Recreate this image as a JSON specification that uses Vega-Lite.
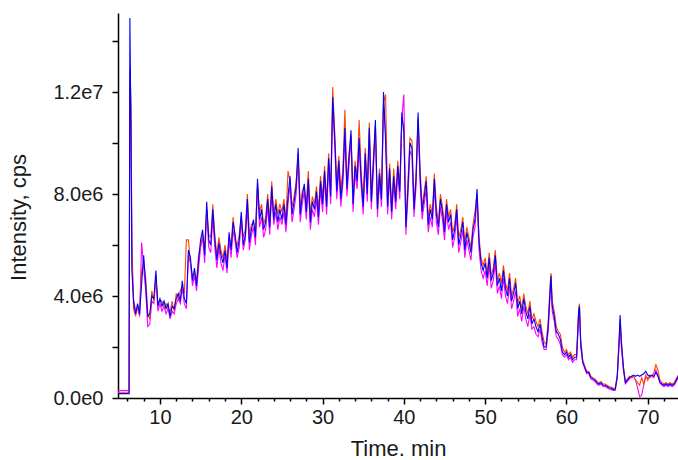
{
  "$schema": "https://vega.github.io/schema/vega-lite/v6.json",
  "width": 560,
  "height": 385,
  "autosize": {"type": "none"},
  "padding": {"left": 118, "top": 13, "right": 0, "bottom": 62},
  "background": "white",
  "config": {
    "view": {"stroke": null},
    "font": "Liberation Sans",
    "axis": {
      "domainColor": "#000000",
      "domainWidth": 1.5,
      "tickColor": "#000000",
      "tickWidth": 1.5,
      "labelFont": "Liberation Sans",
      "labelFontSize": 20,
      "labelColor": "#1a1a1a",
      "titleFont": "Liberation Sans",
      "titleFontSize": 22,
      "titleFontWeight": "normal",
      "titleColor": "#1a1a1a",
      "grid": false,
      "labelOverlap": false,
      "labelBound": false,
      "labelFlush": false
    }
  },
  "data": {"values": [
    {"time":4.84,"magenta":0.29e6,"orange":0.2e6,"blue":0.17e6},
    {"time":6.2,"magenta":0.29e6,"orange":0.2e6,"blue":0.17e6},
    {"time":6.3,"magenta":12.2e6,"orange":12.9e6,"blue":14.9e6},
    {"time":6.45,"magenta":10.5e6,"orange":11.5e6,"blue":10.0e6},
    {"time":6.55,"magenta":5.6e6,"orange":6.2e6,"blue":5.0e6},
    {"time":6.75,"magenta":3.9e6,"orange":3.5e6,"blue":3.8e6},
    {"time":7.0,"magenta":3.4e6,"orange":3.2e6,"blue":3.3e6},
    {"time":7.25,"magenta":3.5e6,"orange":3.6e6,"blue":3.7e6},
    {"time":7.5,"magenta":3.2e6,"orange":3.5e6,"blue":3.3e6},
    {"time":7.75,"magenta":6.1e6,"orange":5.0e6,"blue":4.5e6},
    {"time":8.0,"magenta":5.1e6,"orange":5.3e6,"blue":5.6e6},
    {"time":8.25,"magenta":4.2e6,"orange":4.7e6,"blue":4.4e6},
    {"time":8.5,"magenta":2.8e6,"orange":3.3e6,"blue":3.2e6},
    {"time":8.75,"magenta":2.9e6,"orange":3.1e6,"blue":3.3e6},
    {"time":9.0,"magenta":3.8e6,"orange":4.2e6,"blue":4.0e6},
    {"time":9.25,"magenta":3.7e6,"orange":3.8e6,"blue":3.9e6},
    {"time":9.5,"magenta":4.8e6,"orange":4.7e6,"blue":5.0e6},
    {"time":9.75,"magenta":3.4e6,"orange":3.7e6,"blue":3.6e6},
    {"time":10.0,"magenta":3.7e6,"orange":3.8e6,"blue":3.9e6},
    {"time":10.25,"magenta":3.4e6,"orange":3.8e6,"blue":3.6e6},
    {"time":10.5,"magenta":3.6e6,"orange":3.6e6,"blue":3.8e6},
    {"time":10.75,"magenta":3.3e6,"orange":3.7e6,"blue":3.5e6},
    {"time":11.0,"magenta":3.5e6,"orange":3.5e6,"blue":3.7e6},
    {"time":11.25,"magenta":3.1e6,"orange":3.4e6,"blue":3.2e6},
    {"time":11.5,"magenta":3.4e6,"orange":3.8e6,"blue":3.6e6},
    {"time":11.75,"magenta":3.3e6,"orange":3.4e6,"blue":3.5e6},
    {"time":12.0,"magenta":3.7e6,"orange":4.1e6,"blue":3.9e6},
    {"time":12.25,"magenta":3.9e6,"orange":3.9e6,"blue":4.1e6},
    {"time":12.5,"magenta":3.7e6,"orange":4.2e6,"blue":3.8e6},
    {"time":12.75,"magenta":4.3e6,"orange":4.4e6,"blue":4.6e6},
    {"time":13.0,"magenta":3.7e6,"orange":4.1e6,"blue":3.9e6},
    {"time":13.25,"magenta":3.5e6,"orange":6.2e6,"blue":3.7e6},
    {"time":13.5,"magenta":5.6e6,"orange":6.2e6,"blue":5.8e6},
    {"time":13.75,"magenta":5.3e6,"orange":5.3e6,"blue":5.5e6},
    {"time":14.0,"magenta":4.4e6,"orange":4.8e6,"blue":4.6e6},
    {"time":14.25,"magenta":4.8e6,"orange":4.9e6,"blue":5.1e6},
    {"time":14.5,"magenta":4.2e6,"orange":4.6e6,"blue":4.4e6},
    {"time":14.75,"magenta":5.1e6,"orange":5.6e6,"blue":5.4e6},
    {"time":15.0,"magenta":5.9e6,"orange":6.0e6,"blue":6.2e6},
    {"time":15.25,"magenta":6.3e6,"orange":6.4e6,"blue":6.6e6},
    {"time":15.5,"magenta":5.3e6,"orange":5.9e6,"blue":5.6e6},
    {"time":15.75,"magenta":7.4e6,"orange":7.4e6,"blue":7.7e6},
    {"time":16.0,"magenta":5.9e6,"orange":6.4e6,"blue":6.2e6},
    {"time":16.25,"magenta":5.7e6,"orange":6.3e6,"blue":6.0e6},
    {"time":16.5,"magenta":7.1e6,"orange":7.6e6,"blue":7.4e6},
    {"time":16.75,"magenta":5.9e6,"orange":6.4e6,"blue":6.2e6},
    {"time":17.0,"magenta":5.1e6,"orange":5.6e6,"blue":5.4e6},
    {"time":17.25,"magenta":5.9e6,"orange":6.3e6,"blue":6.1e6},
    {"time":17.5,"magenta":5.3e6,"orange":5.8e6,"blue":5.6e6},
    {"time":17.75,"magenta":5.0e6,"orange":5.5e6,"blue":5.3e6},
    {"time":18.0,"magenta":5.6e6,"orange":6.0e6,"blue":5.8e6},
    {"time":18.25,"magenta":4.9e6,"orange":5.4e6,"blue":5.1e6},
    {"time":18.5,"magenta":6.2e6,"orange":6.3e6,"blue":6.5e6},
    {"time":18.75,"magenta":5.5e6,"orange":6.0e6,"blue":5.8e6},
    {"time":19.0,"magenta":6.6e6,"orange":7.1e6,"blue":6.9e6},
    {"time":19.25,"magenta":6.1e6,"orange":6.2e6,"blue":6.4e6},
    {"time":19.5,"magenta":5.5e6,"orange":6.0e6,"blue":5.7e6},
    {"time":19.75,"magenta":5.9e6,"orange":6.4e6,"blue":6.2e6},
    {"time":20.0,"magenta":7.0e6,"orange":7.1e6,"blue":7.3e6},
    {"time":20.25,"magenta":5.8e6,"orange":6.3e6,"blue":6.0e6},
    {"time":20.5,"magenta":6.2e6,"orange":6.6e6,"blue":6.4e6},
    {"time":20.75,"magenta":7.5e6,"orange":8.0e6,"blue":7.8e6},
    {"time":21.0,"magenta":5.8e6,"orange":6.4e6,"blue":6.1e6},
    {"time":21.25,"magenta":6.4e6,"orange":6.8e6,"blue":6.6e6},
    {"time":21.5,"magenta":6.7e6,"orange":6.9e6,"blue":7.0e6},
    {"time":21.75,"magenta":6.0e6,"orange":6.6e6,"blue":6.3e6},
    {"time":22.0,"magenta":8.3e6,"orange":8.4e6,"blue":8.6e6},
    {"time":22.25,"magenta":6.7e6,"orange":7.3e6,"blue":7.0e6},
    {"time":22.5,"magenta":7.1e6,"orange":7.6e6,"blue":7.4e6},
    {"time":22.75,"magenta":6.3e6,"orange":6.8e6,"blue":6.6e6},
    {"time":23.0,"magenta":6.6e6,"orange":7.1e6,"blue":6.9e6},
    {"time":23.25,"magenta":7.5e6,"orange":8.0e6,"blue":7.8e6},
    {"time":23.5,"magenta":6.4e6,"orange":7.0e6,"blue":6.7e6},
    {"time":23.75,"magenta":8.0e6,"orange":8.5e6,"blue":8.3e6},
    {"time":24.0,"magenta":6.8e6,"orange":7.2e6,"blue":7.0e6},
    {"time":24.25,"magenta":7.3e6,"orange":7.8e6,"blue":7.6e6},
    {"time":24.5,"magenta":6.6e6,"orange":7.2e6,"blue":6.9e6},
    {"time":24.75,"magenta":7.1e6,"orange":7.6e6,"blue":7.4e6},
    {"time":25.0,"magenta":6.8e6,"orange":7.3e6,"blue":7.0e6},
    {"time":25.25,"magenta":7.3e6,"orange":7.8e6,"blue":7.6e6},
    {"time":25.5,"magenta":6.5e6,"orange":7.0e6,"blue":6.8e6},
    {"time":25.75,"magenta":7.6e6,"orange":8.9e6,"blue":7.9e6},
    {"time":26.0,"magenta":8.4e6,"orange":8.5e6,"blue":8.7e6},
    {"time":26.25,"magenta":6.9e6,"orange":7.5e6,"blue":7.2e6},
    {"time":26.5,"magenta":7.4e6,"orange":7.9e6,"blue":7.7e6},
    {"time":26.75,"magenta":8.0e6,"orange":8.5e6,"blue":8.3e6},
    {"time":27.0,"magenta":9.4e6,"orange":9.6e6,"blue":9.8e6},
    {"time":27.25,"magenta":6.9e6,"orange":7.5e6,"blue":7.2e6},
    {"time":27.5,"magenta":7.6e6,"orange":8.1e6,"blue":7.9e6},
    {"time":27.75,"magenta":8.1e6,"orange":8.3e6,"blue":8.4e6},
    {"time":28.0,"magenta":7.0e6,"orange":7.6e6,"blue":7.3e6},
    {"time":28.25,"magenta":8.3e6,"orange":8.9e6,"blue":8.6e6},
    {"time":28.5,"magenta":6.6e6,"orange":7.2e6,"blue":6.9e6},
    {"time":28.75,"magenta":7.4e6,"orange":7.9e6,"blue":7.7e6},
    {"time":29.0,"magenta":7.1e6,"orange":7.6e6,"blue":7.4e6},
    {"time":29.25,"magenta":7.8e6,"orange":8.3e6,"blue":8.1e6},
    {"time":29.5,"magenta":6.8e6,"orange":7.4e6,"blue":7.1e6},
    {"time":29.75,"magenta":8.2e6,"orange":8.7e6,"blue":8.5e6},
    {"time":30.0,"magenta":7.3e6,"orange":7.9e6,"blue":7.6e6},
    {"time":30.25,"magenta":8.6e6,"orange":9.1e6,"blue":8.9e6},
    {"time":30.5,"magenta":7.2e6,"orange":7.7e6,"blue":7.5e6},
    {"time":30.75,"magenta":9.1e6,"orange":9.6e6,"blue":9.4e6},
    {"time":31.0,"magenta":7.6e6,"orange":8.2e6,"blue":7.9e6},
    {"time":31.25,"magenta":11.5e6,"orange":12.2e6,"blue":11.8e6},
    {"time":31.5,"magenta":9.9e6,"orange":10.4e6,"blue":10.2e6},
    {"time":31.75,"magenta":7.8e6,"orange":8.4e6,"blue":8.1e6},
    {"time":32.0,"magenta":9.0e6,"orange":9.5e6,"blue":9.3e6},
    {"time":32.25,"magenta":7.5e6,"orange":8.1e6,"blue":7.8e6},
    {"time":32.5,"magenta":8.4e6,"orange":9.0e6,"blue":8.7e6},
    {"time":32.75,"magenta":10.3e6,"orange":11.3e6,"blue":10.6e6},
    {"time":33.0,"magenta":7.9e6,"orange":8.4e6,"blue":8.2e6},
    {"time":33.25,"magenta":9.1e6,"orange":9.6e6,"blue":9.4e6},
    {"time":33.5,"magenta":10.2e6,"orange":10.3e6,"blue":10.5e6},
    {"time":33.75,"magenta":7.3e6,"orange":7.9e6,"blue":7.6e6},
    {"time":34.0,"magenta":8.8e6,"orange":9.3e6,"blue":9.1e6},
    {"time":34.25,"magenta":8.2e6,"orange":8.7e6,"blue":8.5e6},
    {"time":34.5,"magenta":9.9e6,"orange":10.9e6,"blue":10.2e6},
    {"time":34.75,"magenta":8.3e6,"orange":8.9e6,"blue":8.6e6},
    {"time":35.0,"magenta":7.2e6,"orange":7.7e6,"blue":7.5e6},
    {"time":35.25,"magenta":9.3e6,"orange":9.8e6,"blue":9.6e6},
    {"time":35.5,"magenta":7.7e6,"orange":8.3e6,"blue":8.0e6},
    {"time":35.75,"magenta":10.3e6,"orange":10.8e6,"blue":10.6e6},
    {"time":36.0,"magenta":7.4e6,"orange":8.0e6,"blue":7.7e6},
    {"time":36.25,"magenta":8.9e6,"orange":9.4e6,"blue":9.2e6},
    {"time":36.5,"magenta":10.6e6,"orange":10.7e6,"blue":10.9e6},
    {"time":36.75,"magenta":7.1e6,"orange":7.6e6,"blue":7.4e6},
    {"time":37.0,"magenta":8.5e6,"orange":9.0e6,"blue":8.8e6},
    {"time":37.25,"magenta":7.5e6,"orange":8.0e6,"blue":7.8e6},
    {"time":37.5,"magenta":11.5e6,"orange":11.6e6,"blue":12.0e6},
    {"time":37.75,"magenta":10.4e6,"orange":11.9e6,"blue":10.1e6},
    {"time":38.0,"magenta":7.2e6,"orange":7.8e6,"blue":7.5e6},
    {"time":38.25,"magenta":8.7e6,"orange":9.2e6,"blue":9.0e6},
    {"time":38.5,"magenta":7.0e6,"orange":7.5e6,"blue":7.3e6},
    {"time":38.75,"magenta":8.4e6,"orange":9.0e6,"blue":8.7e6},
    {"time":39.0,"magenta":7.4e6,"orange":7.9e6,"blue":7.7e6},
    {"time":39.25,"magenta":8.8e6,"orange":9.3e6,"blue":9.1e6},
    {"time":39.5,"magenta":7.8e6,"orange":8.3e6,"blue":8.1e6},
    {"time":39.75,"magenta":11.0e6,"orange":10.9e6,"blue":11.2e6},
    {"time":40.0,"magenta":11.9e6,"orange":10.6e6,"blue":10.4e6},
    {"time":40.25,"magenta":6.4e6,"orange":6.9e6,"blue":6.7e6},
    {"time":40.5,"magenta":7.9e6,"orange":8.5e6,"blue":8.2e6},
    {"time":40.75,"magenta":9.7e6,"orange":10.2e6,"blue":10.0e6},
    {"time":41.0,"magenta":9.5e6,"orange":10.1e6,"blue":9.8e6},
    {"time":41.25,"magenta":7.1e6,"orange":7.6e6,"blue":7.4e6},
    {"time":41.5,"magenta":8.3e6,"orange":8.8e6,"blue":8.6e6},
    {"time":41.75,"magenta":10.9e6,"orange":11.0e6,"blue":11.2e6},
    {"time":42.0,"magenta":8.4e6,"orange":9.0e6,"blue":8.7e6},
    {"time":42.25,"magenta":7.0e6,"orange":7.5e6,"blue":7.3e6},
    {"time":42.5,"magenta":7.6e6,"orange":8.1e6,"blue":7.9e6},
    {"time":42.75,"magenta":8.2e6,"orange":8.7e6,"blue":8.5e6},
    {"time":43.0,"magenta":6.5e6,"orange":7.1e6,"blue":6.8e6},
    {"time":43.25,"magenta":7.1e6,"orange":7.6e6,"blue":7.4e6},
    {"time":43.5,"magenta":6.7e6,"orange":7.2e6,"blue":7.0e6},
    {"time":43.75,"magenta":8.3e6,"orange":8.8e6,"blue":8.6e6},
    {"time":44.0,"magenta":6.9e6,"orange":7.5e6,"blue":7.2e6},
    {"time":44.25,"magenta":6.4e6,"orange":6.9e6,"blue":6.7e6},
    {"time":44.5,"magenta":7.5e6,"orange":8.0e6,"blue":7.8e6},
    {"time":44.75,"magenta":7.0e6,"orange":7.5e6,"blue":7.3e6},
    {"time":45.0,"magenta":6.2e6,"orange":6.8e6,"blue":6.5e6},
    {"time":45.25,"magenta":7.3e6,"orange":7.8e6,"blue":7.6e6},
    {"time":45.5,"magenta":6.6e6,"orange":7.1e6,"blue":6.9e6},
    {"time":45.75,"magenta":6.9e6,"orange":7.4e6,"blue":7.2e6},
    {"time":46.0,"magenta":5.9e6,"orange":6.5e6,"blue":6.2e6},
    {"time":46.25,"magenta":6.3e6,"orange":6.8e6,"blue":6.6e6},
    {"time":46.5,"magenta":7.1e6,"orange":7.6e6,"blue":7.4e6},
    {"time":46.75,"magenta":5.7e6,"orange":6.3e6,"blue":6.0e6},
    {"time":47.0,"magenta":6.1e6,"orange":6.6e6,"blue":6.4e6},
    {"time":47.25,"magenta":6.6e6,"orange":7.1e6,"blue":6.9e6},
    {"time":47.5,"magenta":5.5e6,"orange":6.1e6,"blue":5.8e6},
    {"time":47.75,"magenta":6.2e6,"orange":6.7e6,"blue":6.5e6},
    {"time":48.0,"magenta":5.8e6,"orange":6.3e6,"blue":6.1e6},
    {"time":48.25,"magenta":5.4e6,"orange":5.9e6,"blue":5.7e6},
    {"time":48.5,"magenta":6.3e6,"orange":6.8e6,"blue":6.6e6},
    {"time":48.75,"magenta":6.7e6,"orange":7.3e6,"blue":7.0e6},
    {"time":49.0,"magenta":7.9e6,"orange":8.0e6,"blue":8.2e6},
    {"time":49.25,"magenta":5.8e6,"orange":6.3e6,"blue":6.1e6},
    {"time":49.5,"magenta":5.0e6,"orange":5.5e6,"blue":5.3e6},
    {"time":49.75,"magenta":4.7e6,"orange":5.2e6,"blue":5.0e6},
    {"time":50.0,"magenta":5.0e6,"orange":5.5e6,"blue":5.3e6},
    {"time":50.25,"magenta":4.4e6,"orange":4.9e6,"blue":4.7e6},
    {"time":50.5,"magenta":5.2e6,"orange":5.7e6,"blue":5.5e6},
    {"time":50.75,"magenta":4.3e6,"orange":4.8e6,"blue":4.6e6},
    {"time":51.0,"magenta":4.6e6,"orange":5.1e6,"blue":4.9e6},
    {"time":51.25,"magenta":5.3e6,"orange":5.8e6,"blue":5.6e6},
    {"time":51.5,"magenta":4.1e6,"orange":4.6e6,"blue":4.4e6},
    {"time":51.75,"magenta":4.4e6,"orange":4.9e6,"blue":4.7e6},
    {"time":52.0,"magenta":3.9e6,"orange":4.5e6,"blue":4.2e6},
    {"time":52.25,"magenta":4.7e6,"orange":5.2e6,"blue":5.0e6},
    {"time":52.5,"magenta":4.0e6,"orange":4.5e6,"blue":4.3e6},
    {"time":52.75,"magenta":3.7e6,"orange":4.2e6,"blue":4.0e6},
    {"time":53.0,"magenta":4.4e6,"orange":4.9e6,"blue":4.7e6},
    {"time":53.25,"magenta":3.5e6,"orange":4.0e6,"blue":3.8e6},
    {"time":53.5,"magenta":3.8e6,"orange":4.3e6,"blue":4.1e6},
    {"time":53.75,"magenta":4.2e6,"orange":4.7e6,"blue":4.5e6},
    {"time":54.0,"magenta":3.2e6,"orange":3.7e6,"blue":3.5e6},
    {"time":54.25,"magenta":3.5e6,"orange":4.0e6,"blue":3.8e6},
    {"time":54.5,"magenta":3.0e6,"orange":3.5e6,"blue":3.3e6},
    {"time":54.75,"magenta":3.6e6,"orange":4.1e6,"blue":3.9e6},
    {"time":55.0,"magenta":3.1e6,"orange":3.6e6,"blue":3.4e6},
    {"time":55.25,"magenta":2.8e6,"orange":3.3e6,"blue":3.1e6},
    {"time":55.5,"magenta":3.3e6,"orange":3.8e6,"blue":3.6e6},
    {"time":55.75,"magenta":2.7e6,"orange":3.1e6,"blue":2.9e6},
    {"time":56.0,"magenta":2.8e6,"orange":3.3e6,"blue":3.1e6},
    {"time":56.25,"magenta":2.5e6,"orange":3.0e6,"blue":2.8e6},
    {"time":56.5,"magenta":2.4e6,"orange":2.8e6,"blue":2.6e6},
    {"time":56.75,"magenta":2.7e6,"orange":3.1e6,"blue":2.9e6},
    {"time":57.0,"magenta":2.2e6,"orange":2.6e6,"blue":2.4e6},
    {"time":57.25,"magenta":1.9e6,"orange":2.2e6,"blue":2.0e6},
    {"time":57.5,"magenta":1.9e6,"orange":2.1e6,"blue":2.0e6},
    {"time":57.75,"magenta":2.6e6,"orange":3.0e6,"blue":2.8e6},
    {"time":58.0,"magenta":4.1e6,"orange":4.5e6,"blue":4.3e6},
    {"time":58.1,"magenta":4.6e6,"orange":4.9e6,"blue":4.8e6},
    {"time":58.25,"magenta":3.4e6,"orange":3.8e6,"blue":3.6e6},
    {"time":58.5,"magenta":3.0e6,"orange":3.4e6,"blue":3.2e6},
    {"time":58.75,"magenta":2.4e6,"orange":2.8e6,"blue":2.6e6},
    {"time":59.0,"magenta":2.3e6,"orange":2.6e6,"blue":2.5e6},
    {"time":59.25,"magenta":2.1e6,"orange":2.5e6,"blue":2.3e6},
    {"time":59.5,"magenta":1.7e6,"orange":2.0e6,"blue":1.8e6},
    {"time":59.75,"magenta":1.6e6,"orange":1.8e6,"blue":1.7e6},
    {"time":60.0,"magenta":1.7e6,"orange":1.9e6,"blue":1.8e6},
    {"time":60.25,"magenta":1.5e6,"orange":1.7e6,"blue":1.6e6},
    {"time":60.5,"magenta":1.6e6,"orange":1.8e6,"blue":1.7e6},
    {"time":60.75,"magenta":1.4e6,"orange":1.6e6,"blue":1.5e6},
    {"time":61.0,"magenta":1.5e6,"orange":1.7e6,"blue":1.6e6},
    {"time":61.25,"magenta":1.5e6,"orange":1.7e6,"blue":1.6e6},
    {"time":61.5,"magenta":3.2e6,"orange":3.5e6,"blue":3.4e6},
    {"time":61.6,"magenta":3.4e6,"orange":3.7e6,"blue":3.6e6},
    {"time":61.75,"magenta":2.0e6,"orange":2.3e6,"blue":2.2e6},
    {"time":62.0,"magenta":1.4e6,"orange":1.5e6,"blue":1.4e6},
    {"time":62.25,"magenta":1.15e6,"orange":1.25e6,"blue":1.2e6},
    {"time":62.5,"magenta":0.95e6,"orange":1.05e6,"blue":1.0e6},
    {"time":62.75,"magenta":0.95e6,"orange":1.05e6,"blue":1.0e6},
    {"time":63.0,"magenta":0.75e6,"orange":0.85e6,"blue":0.8e6},
    {"time":63.25,"magenta":0.7e6,"orange":0.8e6,"blue":0.75e6},
    {"time":63.5,"magenta":0.65e6,"orange":0.75e6,"blue":0.7e6},
    {"time":63.75,"magenta":0.55e6,"orange":0.65e6,"blue":0.6e6},
    {"time":64.0,"magenta":0.5e6,"orange":0.6e6,"blue":0.55e6},
    {"time":64.25,"magenta":0.55e6,"orange":0.65e6,"blue":0.6e6},
    {"time":64.5,"magenta":0.45e6,"orange":0.55e6,"blue":0.5e6},
    {"time":64.75,"magenta":0.45e6,"orange":0.55e6,"blue":0.5e6},
    {"time":65.0,"magenta":0.4e6,"orange":0.5e6,"blue":0.45e6},
    {"time":65.25,"magenta":0.35e6,"orange":0.45e6,"blue":0.4e6},
    {"time":65.5,"magenta":0.33e6,"orange":0.42e6,"blue":0.38e6},
    {"time":65.75,"magenta":0.3e6,"orange":0.38e6,"blue":0.33e6},
    {"time":66.0,"magenta":0.3e6,"orange":0.4e6,"blue":0.35e6},
    {"time":66.25,"magenta":0.8e6,"orange":0.9e6,"blue":0.85e6},
    {"time":66.5,"magenta":2.2e6,"orange":2.5e6,"blue":2.4e6},
    {"time":66.6,"magenta":3.0e6,"orange":3.1e6,"blue":3.25e6},
    {"time":66.75,"magenta":2.0e6,"orange":2.3e6,"blue":2.2e6},
    {"time":67.0,"magenta":1.1e6,"orange":1.25e6,"blue":1.2e6},
    {"time":67.25,"magenta":0.55e6,"orange":0.65e6,"blue":0.6e6},
    {"time":67.5,"magenta":0.65e6,"orange":0.75e6,"blue":0.7e6},
    {"time":67.75,"magenta":0.75e6,"orange":0.85e6,"blue":0.8e6},
    {"time":68.0,"magenta":0.8e6,"orange":0.8e6,"blue":0.85e6},
    {"time":68.25,"magenta":0.85e6,"orange":0.85e6,"blue":0.9e6},
    {"time":68.5,"magenta":0.7e6,"orange":0.7e6,"blue":0.85e6},
    {"time":68.75,"magenta":0.4e6,"orange":0.6e6,"blue":0.9e6},
    {"time":69.0,"magenta":0.05e6,"orange":0.5e6,"blue":0.85e6},
    {"time":69.25,"magenta":0.1e6,"orange":0.8e6,"blue":0.9e6},
    {"time":69.5,"magenta":0.5e6,"orange":0.55e6,"blue":0.95e6},
    {"time":69.75,"magenta":0.8e6,"orange":0.9e6,"blue":1.05e6},
    {"time":70.0,"magenta":0.8e6,"orange":0.7e6,"blue":0.9e6},
    {"time":70.25,"magenta":0.8e6,"orange":0.9e6,"blue":0.85e6},
    {"time":70.5,"magenta":0.85e6,"orange":0.85e6,"blue":0.9e6},
    {"time":70.75,"magenta":0.8e6,"orange":1.0e6,"blue":0.85e6},
    {"time":71.0,"magenta":1.1e6,"orange":1.3e6,"blue":1.0e6},
    {"time":71.25,"magenta":0.9e6,"orange":1.1e6,"blue":0.85e6},
    {"time":71.5,"magenta":0.6e6,"orange":0.7e6,"blue":0.6e6},
    {"time":71.75,"magenta":0.5e6,"orange":0.6e6,"blue":0.55e6},
    {"time":72.0,"magenta":0.45e6,"orange":0.55e6,"blue":0.5e6},
    {"time":72.25,"magenta":0.5e6,"orange":0.6e6,"blue":0.55e6},
    {"time":72.5,"magenta":0.45e6,"orange":0.55e6,"blue":0.5e6},
    {"time":72.75,"magenta":0.5e6,"orange":0.6e6,"blue":0.55e6},
    {"time":73.0,"magenta":0.45e6,"orange":0.55e6,"blue":0.5e6},
    {"time":73.25,"magenta":0.5e6,"orange":0.6e6,"blue":0.55e6},
    {"time":73.5,"magenta":0.65e6,"orange":0.75e6,"blue":0.7e6},
    {"time":73.75,"magenta":0.8e6,"orange":0.9e6,"blue":0.85e6}
  ]},
  "encoding": {
    "x": {
      "field": "time",
      "type": "quantitative",
      "scale": {"domain": [4.84, 73.72], "nice": false, "zero": false},
      "axis": {
        "title": "Time. min",
        "values": [6,8,10,12,14,16,18,20,22,24,26,28,30,32,34,36,38,40,42,44,46,48,50,52,54,56,58,60,62,64,66,68,70,72],
        "labelExpr": "datum.value % 10 === 0 ? datum.label : ''",
        "tickSize": {"condition": {"test": "datum.value % 10 === 0", "value": 6}, "value": 3},
        "labelPadding": 3,
        "titleBaseline": "alphabetic",
        "titleY": 57
      }
    }
  },
  "layer": [
    {
      "mark": {"type": "line", "color": "#FF00FF", "strokeWidth": 1.1, "clip": true},
      "encoding": {
        "y": {
          "field": "magenta",
          "type": "quantitative",
          "title": "Intensity, cps",
          "scale": {"domain": [0, 15100000], "nice": false},
          "axis": {
            "values": [0,1000000,2000000,3000000,4000000,5000000,6000000,7000000,8000000,9000000,10000000,11000000,12000000,13000000,14000000],
            "labelExpr": "datum.value % 4000000 === 0 ? replace(format(datum.value, '.1e'), '+', '') : ''",
            "tickSize": {"condition": {"test": "datum.value % 2000000 === 0", "value": 6}, "value": 4},
            "labelPadding": 9,
            "titleAngle": 270,
            "titleAlign": "center",
            "titleBaseline": "alphabetic",
            "titleX": -93,
            "titleY": 204
          }
        }
      }
    },
    {
      "mark": {"type": "line", "color": "#FF4500", "strokeWidth": 1.1, "clip": true},
      "encoding": {"y": {"field": "orange", "type": "quantitative", "title": "Intensity, cps"}}
    },
    {
      "mark": {"type": "line", "color": "#0000FF", "strokeWidth": 1.1, "clip": true},
      "encoding": {"y": {"field": "blue", "type": "quantitative", "title": "Intensity, cps"}}
    }
  ]
}
